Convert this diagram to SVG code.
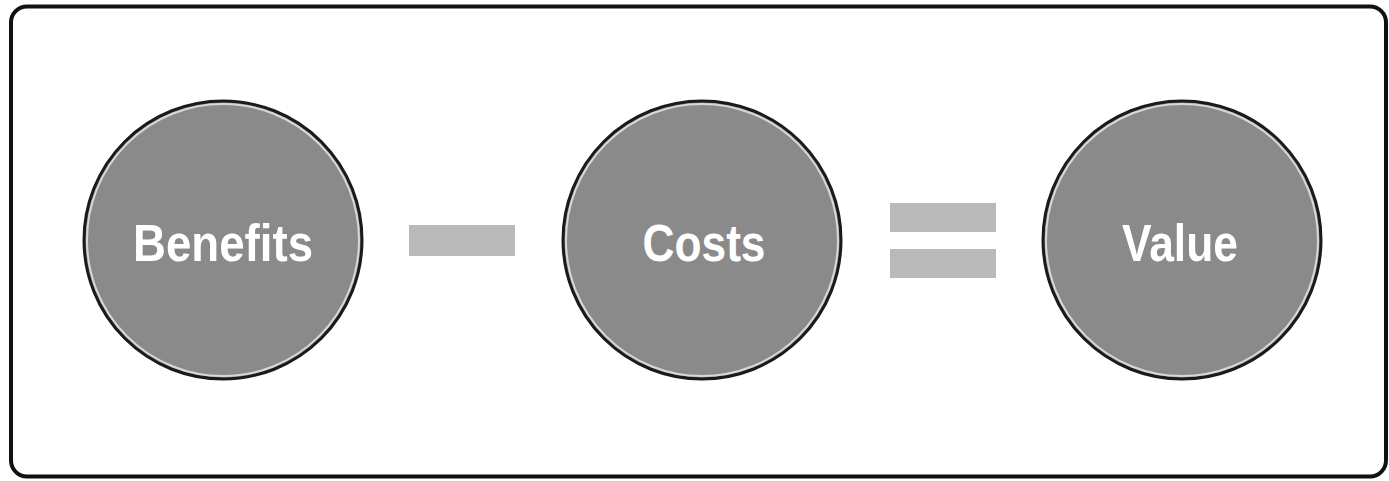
<svg xmlns="http://www.w3.org/2000/svg" width="1389" height="481" viewBox="0 0 1389 481">
<style>
.ring{fill:#8a8a8a;stroke:#1a1a1a;stroke-width:3}
.inner{fill:none;stroke:#d8d8d8;stroke-width:2}
.lbl{fill:#ffffff;font-family:"Liberation Sans Narrow","Liberation Sans",sans-serif;font-weight:bold;font-size:52px;text-anchor:middle}
.op{fill:#b9b9b9}
</style>
<rect x="11" y="6.5" width="1375" height="470" rx="16" fill="#ffffff" stroke="#111111" stroke-width="4"/>
<g id="benefits">
<circle class="ring" cx="223" cy="240" r="139"/>
<circle class="inner" cx="223" cy="240" r="136"/>
<text class="lbl" x="223" y="261" textLength="180" lengthAdjust="spacingAndGlyphs">Benefits</text>
</g>
<g id="minus">
<rect class="op" x="409" y="225" width="106" height="31"/>
</g>
<g id="costs">
<circle class="ring" cx="702" cy="240" r="139"/>
<circle class="inner" cx="702" cy="240" r="136"/>
<text class="lbl" x="704" y="261" textLength="123" lengthAdjust="spacingAndGlyphs">Costs</text>
</g>
<g id="equals">
<rect class="op" x="890" y="203" width="106" height="29"/>
<rect class="op" x="890" y="249" width="106" height="29"/>
</g>
<g id="value">
<circle class="ring" cx="1182" cy="240" r="139"/>
<circle class="inner" cx="1182" cy="240" r="136"/>
<text class="lbl" x="1180" y="261" textLength="116" lengthAdjust="spacingAndGlyphs">Value</text>
</g>
<g id="connectors"></g>
</svg>
